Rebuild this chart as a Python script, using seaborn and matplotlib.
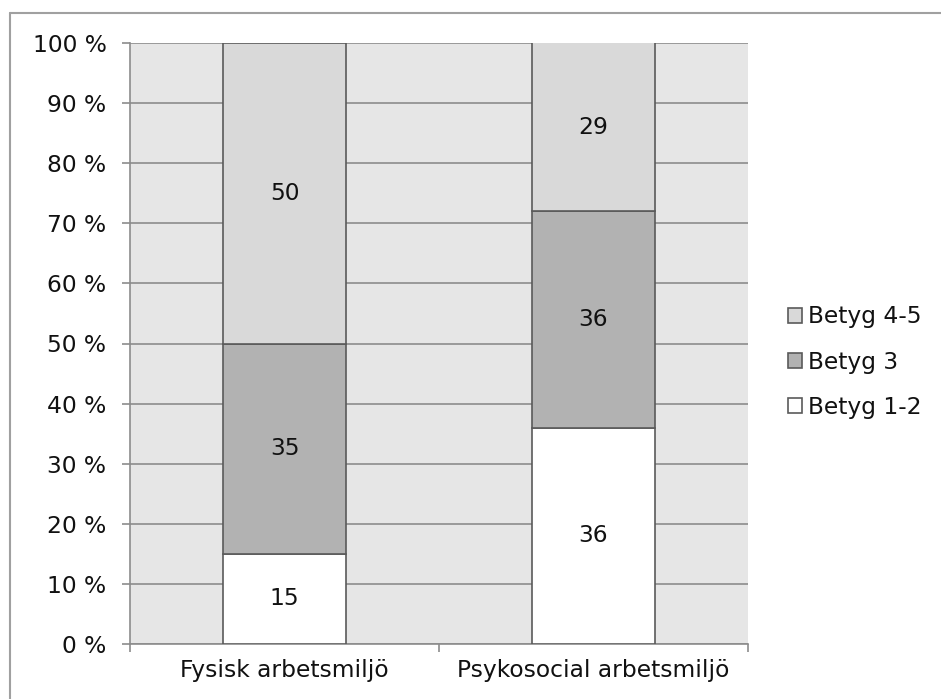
import pandas as pd
import seaborn as sns
import matplotlib.pyplot as plt
from matplotlib.patches import Patch
from matplotlib.lines import Line2D

# values
categories = ['Fysisk arbetsmiljö', 'Psykosocial arbetsmiljö']
betyg_1_2 = [15, 36]
betyg_3 = [35, 36]
betyg_4_5 = [50, 29]
series_names = ['Betyg 1-2', 'Betyg 3', 'Betyg 4-5']
series_colors = ['#ffffff', '#b2b2b2', '#d9d9d9']
y_ticks = [0, 10, 20, 30, 40, 50, 60, 70, 80, 90, 100]

df = pd.DataFrame({'kategori': categories, 'Betyg 1-2': betyg_1_2,
                   'Betyg 3': betyg_3, 'Betyg 4-5': betyg_4_5})

sns.set_style('white')
plt.rcParams['font.family'] = ['DejaVu Sans']
fs = 16.8

fig = plt.figure(figsize=(9.41, 6.99), dpi=100)
ax = fig.add_axes([130 / 941, 55 / 699, 618 / 941, 601 / 699])
ax.set_facecolor('#e6e6e6')

bottom = [0, 0]
for name, color in zip(series_names, series_colors):
    sns.barplot(data=df, x='kategori', y=name, bottom=bottom, color=color,
                width=0.4, edgecolor='#5a5a5a', linewidth=1.2, saturation=1,
                ax=ax, zorder=3)
    bottom = [b + v for b, v in zip(bottom, df[name])]

for cont in ax.containers:
    ax.bar_label(cont, label_type='center', fontsize=fs, color='#111111')

ax.set_xlim(-0.5, 1.5)
ax.set_ylim(0, 100)
ax.set_yticks(y_ticks)
ax.set_yticklabels([f'{t} %' for t in y_ticks], fontsize=fs)
ax.set_xticks([0, 1])
ax.set_xticklabels(categories, fontsize=fs)
ax.set_xticks([-0.5, 0.5, 1.5], minor=True)
ax.set_xlabel('')
ax.set_ylabel('')

ax.grid(axis='y', color='#8c8c8c', linewidth=1.2, zorder=0)
ax.set_axisbelow(True)
for s in ['top', 'right']:
    ax.spines[s].set_visible(False)
for s in ['left', 'bottom']:
    ax.spines[s].set_color('#8c8c8c')
    ax.spines[s].set_linewidth(1.2)

ax.tick_params(axis='y', direction='out', length=6, width=1.2, color='#8c8c8c',
               pad=11, left=True, labelcolor='#111111')
ax.tick_params(axis='x', which='major', length=0, pad=11, labelcolor='#111111')
ax.tick_params(axis='x', which='minor', direction='out', length=6, width=1.2,
               color='#8c8c8c', bottom=True)

handles = [Patch(facecolor=c, edgecolor='#5a5a5a', linewidth=1.2, label=n)
           for n, c in zip(series_names, series_colors)][::-1]
fig.legend(handles=handles, loc='center left', bbox_to_anchor=(767 / 941, 1 - 362 / 699),
           frameon=False, fontsize=fs, handlelength=0.6, handleheight=0.6,
           handletextpad=0.25, labelspacing=0.95, labelcolor='#111111')

# outer chart border (only top and left visible in the reference)
fig.add_artist(Line2D([10 / 941, 10 / 941], [0, 1 - 13 / 699], transform=fig.transFigure,
                      color='#a0a0a0', linewidth=1.5))
fig.add_artist(Line2D([10 / 941, 1], [1 - 13 / 699, 1 - 13 / 699], transform=fig.transFigure,
                      color='#a0a0a0', linewidth=1.5))

fig.savefig('out.png', dpi=100, facecolor='white')
